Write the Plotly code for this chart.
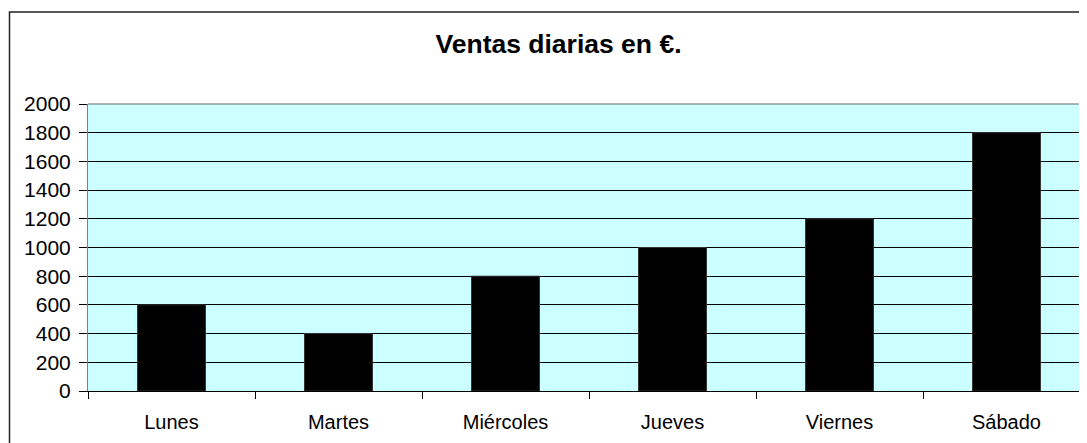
import plotly.graph_objects as go

categorias = ["Lunes", "Martes", "Miércoles", "Jueves", "Viernes", "Sábado"]
ventas = [600, 400, 800, 1000, 1200, 1800]
titulo = "Ventas diarias en €."

# page body has an 8px default margin; figure is sized/offset to compensate
W, H = 1079, 435
ml, mt, mb = 80, 96, 52
pw = W - ml
ph = H - mt - mb
cat_px = 167.0

fig = go.Figure()
fig.add_trace(go.Bar(
    x=categorias, y=ventas,
    marker=dict(color="#000000", line=dict(color="#333333", width=1)),
))

fig.update_layout(
    width=W, height=H,
    margin=dict(l=ml, r=0, t=mt, b=mb, pad=0),
    paper_bgcolor="white",
    plot_bgcolor="#CCFFFF",
    bargap=0.593,
    showlegend=False,
    font=dict(family="Liberation Sans, Arial, sans-serif", size=20, color="black"),
    title=dict(
        text="<b>" + titulo + "</b>",
        x=550.5 / W, xanchor="center",
        y=1 - 36 / H, yanchor="middle",
        xref="container", yref="container",
        font=dict(size=26.5, color="black"),
    ),
    xaxis=dict(
        type="category",
        range=[-0.5, -0.5 + pw / cat_px],
        showline=True, linecolor="black", linewidth=1,
        ticks="outside", ticklen=7, tickcolor="black", tickwidth=1,
        tickson="boundaries",
        showgrid=False,
        ticklabelstandoff=13,
        tickfont=dict(size=20),
    ),
    yaxis=dict(
        range=[0, 2000], dtick=200,
        showline=True, linecolor="#808080", linewidth=1,
        ticks="outside", ticklen=8, tickcolor="black", tickwidth=1,
        showgrid=True, gridcolor="black", gridwidth=1,
        zeroline=False,
        ticklabelstandoff=4,
        tickfont=dict(size=21),
    ),
)

# outer chart border (left and top visible, others outside window)
fig.add_shape(type="rect", xref="paper", yref="paper",
              x0=(1.5 - ml) / pw, x1=1.05,
              y0=-0.5, y1=(H - mb - 4) / ph,
              line=dict(color="#222222", width=1.5), layer="below")
# plot area top border
fig.add_shape(type="line", xref="paper", yref="paper",
              x0=0, x1=1, y0=1, y1=1,
              line=dict(color="#666666", width=1))

fig.write_html("out.html")
